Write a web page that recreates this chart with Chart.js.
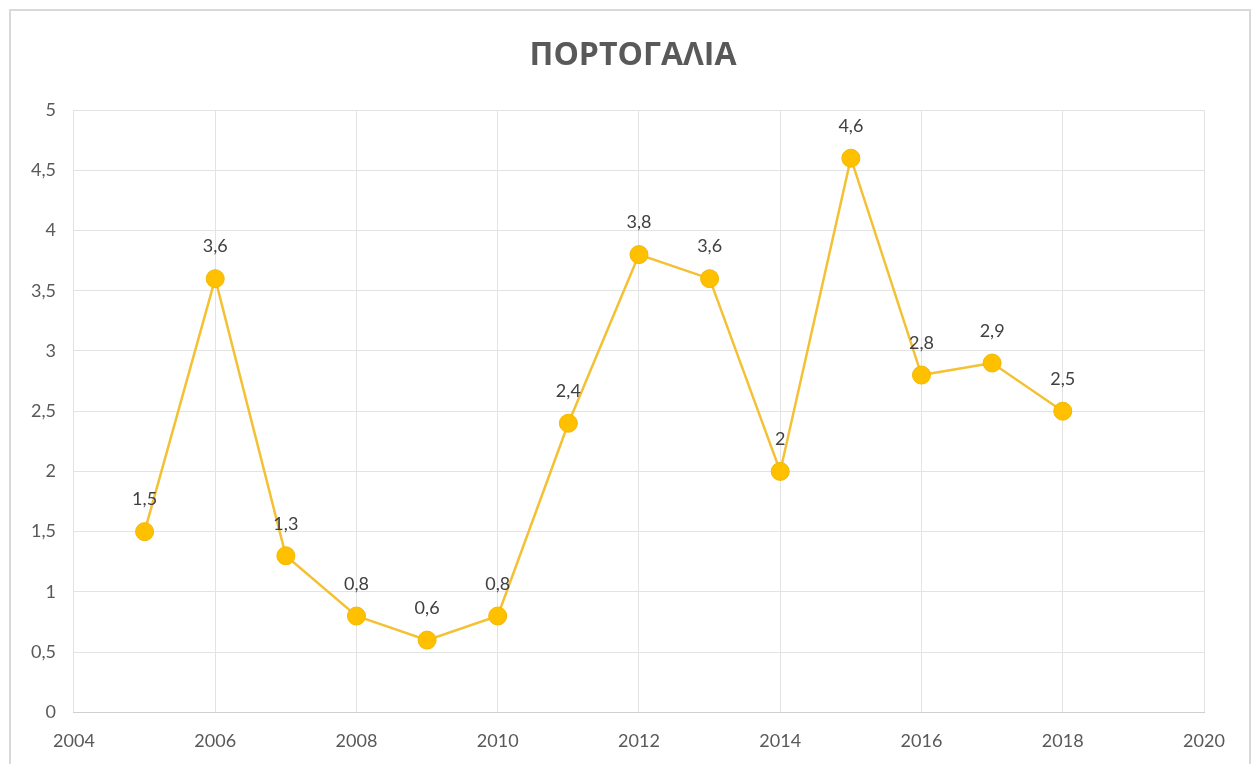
<!DOCTYPE html>
<html>
<head>
<meta charset="utf-8">
<script src="https://cdn.jsdelivr.net/npm/chart.js@4/dist/chart.umd.min.js"></script>
<style>
  html, body { margin: 0; padding: 0; background: #fff; }
  #wrap { position: relative; width: 1260px; height: 764px; }
</style>
</head>
<body>
<div id="wrap"><canvas id="linechart" width="1260" height="764"></canvas></div>
<script>
// Χρονιές και τιμές
const years = [2005, 2006, 2007, 2008, 2009, 2010, 2011, 2012, 2013, 2014, 2015, 2016, 2017, 2018];
const values = [1.5, 3.6, 1.3, 0.8, 0.6, 0.8, 2.4, 3.8, 3.6, 2, 4.6, 2.8, 2.9, 2.5];
const chartTitle = "ΠΟΡΤΟΓΑΛΙΑ";

const fontFamily = "Lato, 'Open Sans', sans-serif";
const textColor = "#595959";

// ελληνική μορφή αριθμών (κόμμα)
function fmt(v) {
  return String(v).replace(".", ",");
}

// ετικέτες τιμών πάνω από τα σημεία
const valueLabels = {
  id: "valueLabels",
  afterDatasetsDraw(chart) {
    const ctx = chart.ctx;
    const meta = chart.getDatasetMeta(0);
    ctx.save();
    ctx.font = "18px " + fontFamily;
    ctx.fillStyle = "#404040";
    ctx.textAlign = "center";
    ctx.textBaseline = "middle";
    meta.data.forEach((pt, i) => {
      ctx.fillText(fmt(values[i]), pt.x, pt.y - 32);
    });
    ctx.restore();
  },
};

// πλαίσιο και τίτλος (κεντραρισμένος σε όλο το πλάτος)
const frame = {
  id: "frame",
  beforeDraw(chart) {
    const ctx = chart.ctx;
    ctx.save();
    ctx.fillStyle = "#fff";
    ctx.fillRect(0, 0, chart.width, chart.height);
    ctx.strokeStyle = "#d9d9d9";
    ctx.lineWidth = 2;
    ctx.strokeRect(10, 10, chart.width - 20, chart.height + 20);
    ctx.font = "bold 32px 'Open Sans', Lato, sans-serif";
    ctx.fillStyle = textColor;
    ctx.textAlign = "center";
    ctx.textBaseline = "middle";
    ctx.fillText(chartTitle, chart.width / 2 + 3, 56);
    ctx.restore();
  },
};

const ctx = document.getElementById("linechart").getContext("2d");
const lineChart = new Chart(ctx, {
  type: "line",
  data: {
    datasets: [
      {
        label: chartTitle,
        data: years.map((y, i) => ({ x: y, y: values[i] })),
        borderColor: "#F4C134",
        borderWidth: 2.5,
        backgroundColor: "#FFC000",
        pointBackgroundColor: "#FFC000",
        pointBorderColor: "#F2B800",
        pointBorderWidth: 1,
        pointRadius: 9,
        pointHoverRadius: 9,
        tension: 0,
        fill: false,
      },
    ],
  },
  options: {
    responsive: false,
    animation: false,
    layout: { padding: { left: 13, right: 56, top: 110, bottom: -6 } },
    plugins: {
      legend: { display: false },
      tooltip: { enabled: false },
      title: { display: false },
    },
    scales: {
      x: {
        type: "linear",
        min: 2004,
        max: 2020,
        ticks: {
          stepSize: 2,
          color: textColor,
          font: { family: fontFamily, size: 18 },
          padding: 18,
          callback: (v) => String(v),
        },
        grid: { color: "#e3e3e3", lineWidth: 1, drawTicks: false },
        border: { color: "#d0d0d0" },
      },
      y: {
        min: 0,
        max: 5,
        ticks: {
          stepSize: 0.5,
          color: textColor,
          font: { family: fontFamily, size: 18 },
          padding: 18,
          callback: (v) => fmt(v),
        },
        grid: { color: "#e3e3e3", lineWidth: 1, drawTicks: false },
        border: { display: false },
      },
    },
  },
  plugins: [frame, valueLabels],
});
</script>
</body>
</html>
